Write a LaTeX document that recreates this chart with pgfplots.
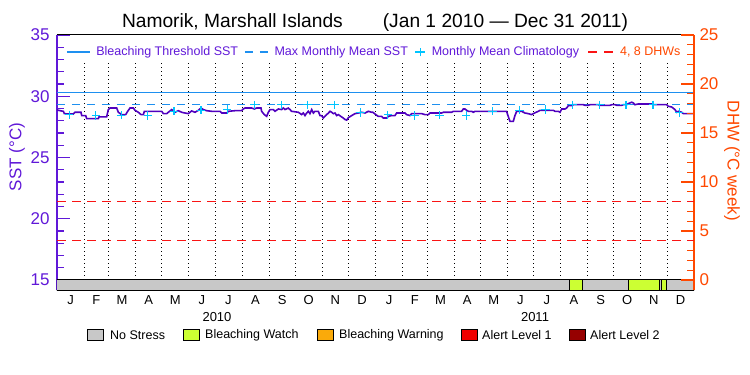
\documentclass[border=0pt]{standalone}
\usepackage{fontspec}
\setmainfont{Liberation Sans}
\usepackage{pgfplots}
\pgfplotsset{compat=1.18}
\definecolor{sstc}{RGB}{96,24,216}
\definecolor{linec}{RGB}{80,0,190}
\definecolor{dhwc}{RGB}{255,72,0}
\definecolor{dhwline}{RGB}{250,20,20}
\definecolor{thrc}{RGB}{30,144,240}
\definecolor{climc}{RGB}{0,196,255}
\definecolor{nostress}{RGB}{200,200,200}
\definecolor{watch}{RGB}{204,255,51}
\definecolor{warning}{RGB}{250,170,10}
\definecolor{alertone}{RGB}{240,0,0}
\definecolor{alerttwo}{RGB}{150,0,0}
\newcommand{\fs}[1]{\fontsize{#1}{#1}\selectfont}
\pgfplotsset{
  legA/.style={legend image code/.code={\draw[##1] (0bp,0bp) -- (23bp,0bp);}},
  legC/.style={legend image code/.code={\draw[##1] (0bp,0bp) -- (10bp,0bp) (5bp,-4.2bp) -- (5bp,4.2bp);}},
  legD/.style={legend image code/.code={\draw[##1] (0bp,0bp) -- (25bp,0bp);}},
}
\begin{document}
\begin{tikzpicture}
\path[use as bounding box] (-57bp,-85bp) rectangle (693bp,290bp);
\begin{axis}[
  scale only axis, width=637bp, height=255bp,
  xmin=0, xmax=730, ymin=14.18, ymax=35,
  separate axis lines,
  every outer x axis line/.append style={black, line width=1bp},
  every outer y axis line/.append style={sstc, line width=1.2bp},
  ytick={15,20,25,30,35},
  minor ytick={16,17,18,19,21,22,23,24,26,27,28,29,31,32,33,34},
  ytick pos=left, tick align=inside,
  major tick length=13bp, minor tick length=7bp,
  y tick style={sstc, line width=1.2bp},
  yticklabel style={text=sstc, font=\fs{17bp}, xshift=-4bp},
  xtick={15.5,45,74.5,105,135.5,166,196.5,227.5,258,288.5,319,349.5,380.5,410,439.5,470,500.5,531,561.5,592.5,623,653.5,684,714.5},
  xticklabels={J,F,M,A,M,J,J,A,S,O,N,D,J,F,M,A,M,J,J,A,S,O,N,D},
  x tick style={draw=none},
  xticklabel style={font=\fs{13bp}, yshift=-2bp},
  /pgf/number format/assume math mode=true,
  legend columns=4,
  legend style={at={(axis description cs:0.0141,0.933)}, anchor=west, draw=none, fill=none,
    inner sep=0pt, font=\fs{12.5bp}, text=sstc, nodes={inner sep=0pt},
    /tikz/every odd column/.append style={column sep=6bp},
    /tikz/every even column/.append style={column sep=11bp}},
]
\pgfplotsinvokeforeach{31,59,90,120,151,181,212,243,273,304,334,365,396,424,455,485,516,546,577,608,638,669,699}{
  \addplot[forget plot, black, line width=0.75bp, dash pattern=on 0.75bp off 3.25bp] coordinates {(#1,15) (#1,32.75)};
}
\addplot[forget plot, thrc, line width=1.2bp] coordinates {(0,30.3) (730,30.3)};
\addplot[forget plot, thrc, line width=1.2bp, dash pattern=on 8bp off 7bp] coordinates {(0,29.3) (730,29.3)};
\addplot[forget plot, linec, line width=1.6bp] coordinates {
(0,28.91) (1.5,28.85) (7.3,28.77) (8.4,28.58) (13,28.55) (18.7,28.55) (20.6,28.69) (27.5,28.69) (28.3,28.42) (32.9,28.42) (34,28.17) (47.4,28.17) (48.1,28.31) (56.9,28.31) (58.8,28.91) (60.7,29.04) (68.4,29.04) (70.3,28.69) (74.1,28.50) (78.7,28.50) (81,28.77) (83.7,29.04) (87.5,29.04) (89.4,28.85) (93.2,28.69) (96.3,28.50) (99,28.50) (100.1,28.77) (120,28.77) (121.9,28.58) (125.7,28.58) (127.6,28.69) (131.4,28.91) (135.2,28.69) (139,28.82) (142.9,28.69) (146.7,28.63) (150.5,28.58) (154.3,28.80) (158.1,28.69) (162,28.85) (165,29.04) (167.7,28.91) (171.5,28.82) (177.2,28.77)
(181.1,28.77) (186.8,28.77) (188.7,28.63) (194.4,28.63) (196.4,28.77) (204,28.82) (211.6,28.82) (213.5,28.96) (215.5,29.04) (223.1,29.04) (226.2,28.96) (228.8,29.04) (233.8,29.04) (234.5,28.77) (237.6,28.50) (240.3,28.36) (242.2,28.69) (244.1,28.91) (247.9,28.91) (249.8,28.77) (253.7,28.96) (257.5,28.91) (259.4,29.04) (261.3,28.91) (265.1,29.04) (267,28.91) (268.9,28.77) (276.6,28.69) (280.4,28.50) (282.3,28.63) (284.2,28.42) (286.1,28.63) (288,28.77) (289.9,28.58) (291.9,28.91) (293.8,28.63) (295.7,28.77) (299.5,28.77) (301.4,28.42) (303.3,28.42) (305.2,28.22) (307.1,28.36) (311,28.63) (312.9,28.77) (314.8,28.69) (316.7,28.58) (318.6,28.63) (320.5,28.42) (322.4,28.50) (326.2,28.31) (328.1,28.22) (330.1,28.10) (332,28.05) (333.9,28.25) (337.7,28.42) (341.5,28.58) (345.3,28.63) (349.2,28.69) (353,28.63) (356.8,28.77) (360.6,28.69) (362,28.69)
(366.3,28.45) (368.2,28.36) (372,28.36) (374,28.22) (377.8,28.22) (379.7,28.36) (383.5,28.42) (387.3,28.42) (389.2,28.63) (398.8,28.63) (400.7,28.50) (404.5,28.42) (406.4,28.58) (417.9,28.58) (421.7,28.50) (425.5,28.50) (427.4,28.63) (440.8,28.63) (442.7,28.69) (452.3,28.69) (454.2,28.77) (463.7,28.77) (465.6,28.96) (467.5,28.96) (469.5,28.85) (471.4,28.77) (475.2,28.77) (477.1,28.69) (479,28.77) (515.3,28.77) (516.4,28.50) (519.1,27.95) (522.9,27.95) (524.8,28.42) (526.8,28.77) (532.5,28.77) (536.3,28.63) (540.1,28.58) (543.9,28.50) (547.8,28.65) (551.6,28.77) (553.5,28.85) (568.8,28.85) (570.7,28.77) (574.5,28.77) (576.5,28.69) (578.4,28.96) (582.2,28.96) (584.1,29.04) (586,29.23) (589.8,29.23) (591.7,29.31) (603.2,29.31) (605.1,29.26) (608.9,29.26) (610.8,29.31) (620.4,29.31) (622.3,29.26) (633.8,29.26) (635.7,29.31) (639.5,29.31) (641.4,29.26) (647.1,29.26) (649,29.31) (652.9,29.31) (654.8,29.40) (658.6,29.51) (660.5,29.45) (662.4,29.31) (666.2,29.37) (681.5,29.37) (683.4,29.31) (698.7,29.31) (700.6,29.18) (704.4,29.12) (708.2,28.91) (710.2,28.69) (712.1,28.77) (715.9,28.69) (717.8,28.58) (730,28.58)
};
\addplot[forget plot, only marks, climc, mark=+, mark size=4.2bp, line width=1.2bp] coordinates {
(14,28.48) (44.5,28.42) (73.5,28.46) (104,28.42) (134,28.78) (165,28.86) (195,28.92) (226,29.3) (257,29.3) (287,29.3) (318,29.3) (348,28.68)
(379,28.48) (409.5,28.42) (438.5,28.46) (469,28.42) (499,28.78) (530,28.86) (560,28.92) (591,29.3) (622,29.3) (652,29.3) (683,29.3) (713,28.68)
};
% status bar
\addplot[forget plot, fill=nostress, draw=black, line width=1bp] coordinates {(0,14.18) (730,14.18) (730,15) (0,15)} -- cycle;
\addplot[forget plot, fill=watch, draw=black, line width=1bp] coordinates {(587,14.18) (602,14.18) (602,15) (587,15)} -- cycle;
\addplot[forget plot, fill=watch, draw=black, line width=1bp] coordinates {(655,14.18) (690,14.18) (690,15) (655,15)} -- cycle;
\addplot[forget plot, fill=watch, draw=black, line width=1bp] coordinates {(693,14.18) (699,14.18) (699,15) (693,15)} -- cycle;
% legend
\addlegendimage{legA, thrc, line width=1.2bp}
\addlegendentry{\makebox[137bp][l]{Bleaching Threshold SST}}
\addlegendimage{legA, thrc, line width=1.2bp, dash pattern=on 8bp off 7bp}
\addlegendentry{\makebox[129bp][l]{Max Monthly Mean SST}}
\addlegendimage{legC, climc, line width=1.2bp}
\addlegendentry{\makebox[145bp][l]{Monthly Mean Climatology}}
\addlegendimage{legD, dhwline, line width=1.3bp, dash pattern=on 9bp off 7bp}
\addlegendentry{\textcolor{dhwc}{4, 8 DHWs}}
\end{axis}
\begin{axis}[
  scale only axis, width=637bp, height=255bp,
  xmin=0, xmax=730, ymin=-1.025, ymax=25,
  axis x line=none, axis y line*=right,
  y axis line style={dhwc, line width=1.2bp},
  ytick={0,5,10,15,20,25},
  minor ytick={1,2,3,4,6,7,8,9,11,12,13,14,16,17,18,19,21,22,23,24},
  tick align=inside,
  major tick length=13bp, minor tick length=7bp,
  y tick style={dhwc, line width=1.2bp},
  yticklabel style={text=dhwc, font=\fs{17bp}, xshift=2bp},
  /pgf/number format/assume math mode=true,
]
\addplot[dhwline, line width=1.3bp, dash pattern=on 9bp off 6bp] coordinates {(0,4) (730,4)};
\addplot[dhwline, line width=1.3bp, dash pattern=on 9bp off 6bp] coordinates {(0,8) (730,8)};
\end{axis}
% titles and labels
\node[font=\fs{19.2bp}] at (318bp,267bp) {Namorik, Marshall Islands\hspace{40bp}(Jan 1 2010 — Dec 31 2011)};
\node[rotate=90, text=sstc, font=\fs{17bp}] at (-40bp,133bp) {SST (°C)};
\node[rotate=-90, text=dhwc, font=\fs{17bp}] at (675bp,129bp) {DHW (°C week)};
\node[font=\fs{13bp}] at (160bp,-27bp) {2010};
\node[font=\fs{13bp}] at (478bp,-27bp) {2011};
% status legend
\begin{scope}[font=\fs{12.5bp}]
\draw[fill=nostress, line width=0.8bp] (30.3bp,-50.7bp) rectangle (46.3bp,-39.5bp);
\node[anchor=west, inner sep=0pt] at (53bp,-45bp) {No Stress};
\draw[fill=watch, line width=0.8bp] (126.3bp,-50.7bp) rectangle (142.3bp,-39.5bp);
\node[anchor=west, inner sep=0pt] at (148bp,-45bp) {Bleaching Watch};
\draw[fill=warning, line width=0.8bp] (260.3bp,-50.7bp) rectangle (276.3bp,-39.5bp);
\node[anchor=west, inner sep=0pt] at (282bp,-45bp) {Bleaching Warning};
\draw[fill=alertone, line width=0.8bp] (404bp,-50.7bp) rectangle (420bp,-39.5bp);
\node[anchor=west, inner sep=0pt] at (425bp,-45bp) {Alert Level 1};
\draw[fill=alerttwo, line width=0.8bp] (512.3bp,-50.7bp) rectangle (528.3bp,-39.5bp);
\node[anchor=west, inner sep=0pt] at (533bp,-45bp) {Alert Level 2};
\end{scope}
\end{tikzpicture}
\end{document}
